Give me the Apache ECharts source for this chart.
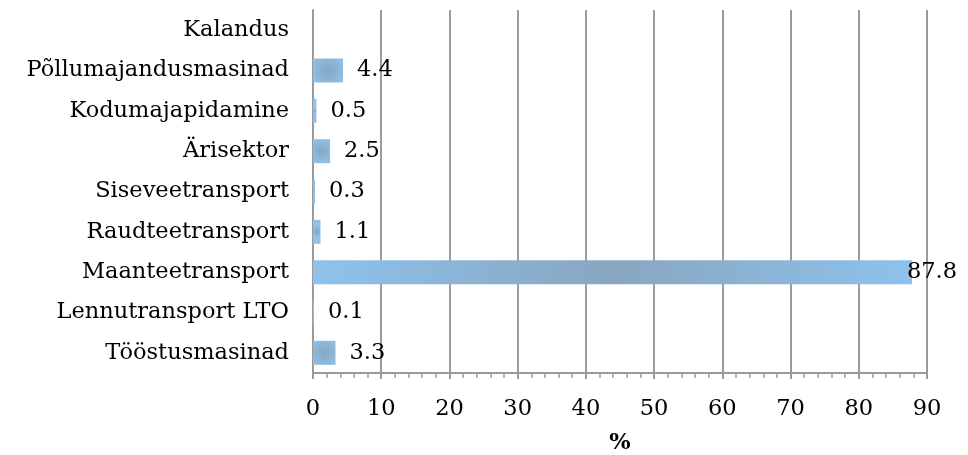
<!DOCTYPE html>
<html><head><meta charset="utf-8">
<script src="https://cdn.jsdelivr.net/npm/echarts@6/dist/echarts.min.js"></script>
<style>html,body{margin:0;padding:0;background:#fff}#c{width:968px;height:455px}</style>
</head><body><div id="c"></div>
<script>
const categories = ["Tööstusmasinad","Lennutransport LTO","Maanteetransport","Raudteetransport","Siseveetransport","Ärisektor","Kodumajapidamine","Põllumajandusmasinad","Kalandus"];
const values = [3.3, 0.1, 87.8, 1.1, 0.3, 2.5, 0.5, 4.4, null];
const xTicks = [0,10,20,30,40,50,60,70,80,90];

const LIGHT = '#8EC2EC', MID = '#88A6C0';
const data = values.map(v => {
  if (v === null) return {value: '-'};
  const item = {value: v};
  if (v > 20) {
    item.itemStyle = {color: {type:'linear', x:0, y:0, x2:1, y2:0, colorStops:[{offset:0,color:LIGHT},{offset:0.5,color:MID},{offset:1,color:LIGHT}]}};
    item.label = {distance: -5};
  } else {
    item.itemStyle = {color: {type:'radial', x:0.5, y:0.5, r:0.75, colorStops:[{offset:0,color:MID},{offset:1,color:LIGHT}]}};
  }
  return item;
});

const FONT = 'DejaVu Serif';
const FS = 22.5;
const chart = echarts.init(document.getElementById('c'), null, {renderer:'canvas'});
chart.setOption({
  animation: false,
  grid: {left: 313, right: 41, top: 10, bottom: 82, containLabel: false, outerBoundsMode: 'none'},
  xAxis: {
    type: 'value', min: xTicks[0], max: xTicks[xTicks.length-1], interval: 10,
    name: '%', nameLocation: 'middle', nameGap: 59,
    nameTextStyle: {fontFamily: FONT, fontSize: FS, fontWeight: 'bold', color: '#000'},
    axisLine: {show: true, lineStyle: {color: '#9a9a9a', width: 2}},
    axisTick: {show: true, length: 6, lineStyle: {color: '#9a9a9a', width: 2}},
    minorTick: {show: true, splitNumber: 5, length: 5, lineStyle: {color: '#9a9a9a', width: 1.5}},
    splitLine: {show: true, lineStyle: {color: '#9a9a9a', width: 2}},
    axisLabel: {fontFamily: FONT, fontSize: FS, color: '#000', margin: 25}
  },
  yAxis: {
    type: 'category', data: categories,
    axisLine: {show: true, lineStyle: {color: '#9a9a9a', width: 2}},
    axisTick: {show: false},
    axisLabel: {fontFamily: FONT, fontSize: FS, color: '#000', margin: 24}
  },
  series: [{
    type: 'bar', data: data, barWidth: 24, barMinHeight: 1,
    label: {show: true, position: 'right', distance: 14, fontFamily: FONT, fontSize: FS, color: '#000',
      formatter: p => (typeof p.value === 'number' ? p.value.toFixed(1) : '')}
  }]
});
</script></body></html>
